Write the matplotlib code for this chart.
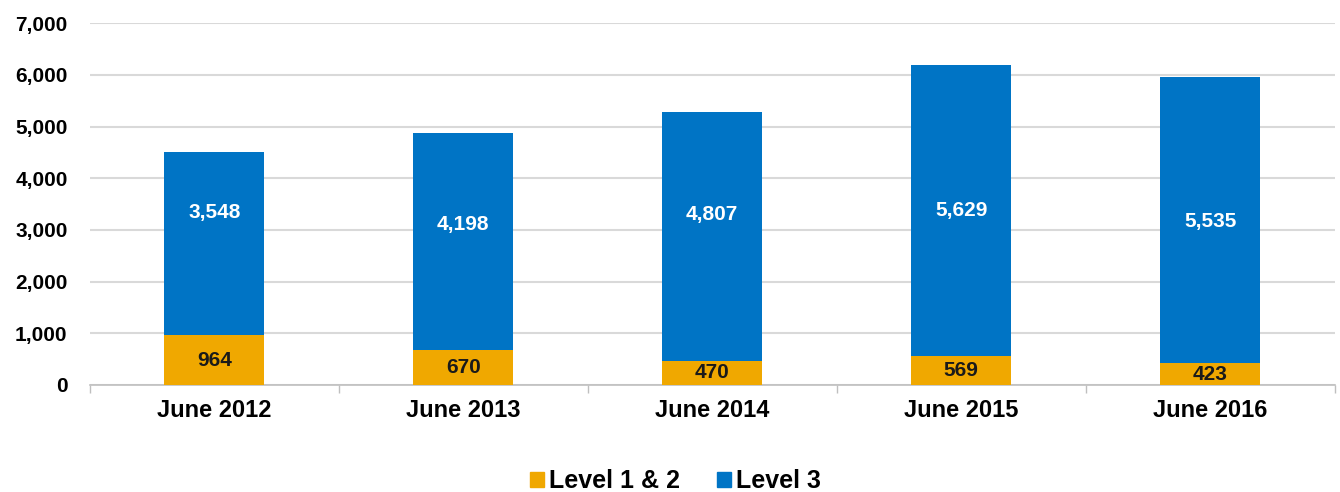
import matplotlib.pyplot as plt
from matplotlib.ticker import FuncFormatter, FixedLocator
from matplotlib.patches import Patch

plt.rcParams['font.family'] = ['Liberation Sans', 'DejaVu Sans']
plt.rcParams['font.weight'] = 'bold'

categories = ['June 2012', 'June 2013', 'June 2014', 'June 2015', 'June 2016']
level12 = [964, 670, 470, 569, 423]
level3 = [3548, 4198, 4807, 5629, 5535]
# label heights of the Level 3 values, as placed in the original
level3_label_y = [3330, 3110, 3290, 3370, 3170]

orange = '#F0A800'
blue = '#0074C5'

fig = plt.figure(figsize=(13.4, 4.92), dpi=100)
ax = fig.add_axes([0.067, 0.2175, 0.929, 0.7355])

x = list(range(len(categories)))
ax.bar(x, level12, width=0.4, color=orange, zorder=3)
ax.bar(x, level3, width=0.4, bottom=level12, color=blue, zorder=3)

for i in x:
    ax.text(i, level12[i] / 2, f'{level12[i]:,}', ha='center', va='center',
            fontsize=15, fontweight='bold', color='#1a1a1a', zorder=4)
    ax.text(i, level3_label_y[i], f'{level3[i]:,}', ha='center', va='center',
            fontsize=15, fontweight='bold', color='white', zorder=4)

ax.set_xlim(-0.5, len(categories) - 0.5)
ax.set_ylim(0, 7000)
ax.set_yticks(range(0, 7001, 1000))
ax.yaxis.set_major_formatter(FuncFormatter(lambda v, p: f'{int(v):,}'))
ax.set_xticks(x)
ax.set_xticklabels(categories)
ax.xaxis.set_minor_locator(FixedLocator([i - 0.5 for i in range(len(categories) + 1)]))

ax.tick_params(axis='y', length=0, labelsize=15, pad=16)
ax.tick_params(axis='x', which='major', length=0, labelsize=17, pad=10)
ax.tick_params(axis='x', which='minor', length=6, color='#BFBFBF', width=1)

ax.grid(axis='y', color='#D9D9D9', linewidth=1.5, zorder=0)
for s in ['top', 'right', 'left']:
    ax.spines[s].set_visible(False)
ax.spines['bottom'].set_color('#BFBFBF')
ax.spines['bottom'].set_linewidth(1.2)

handles = [Patch(color=orange, label='Level 1 & 2'), Patch(color=blue, label='Level 3')]
fig.legend(handles=handles, loc='center', bbox_to_anchor=(0.504, 0.022),
           ncol=2, frameon=False, prop={'size': 18, 'weight': 'bold'},
           handlelength=0.55, handleheight=0.55, handletextpad=0.2, columnspacing=1.5)

fig.savefig('out.png', dpi=100)
